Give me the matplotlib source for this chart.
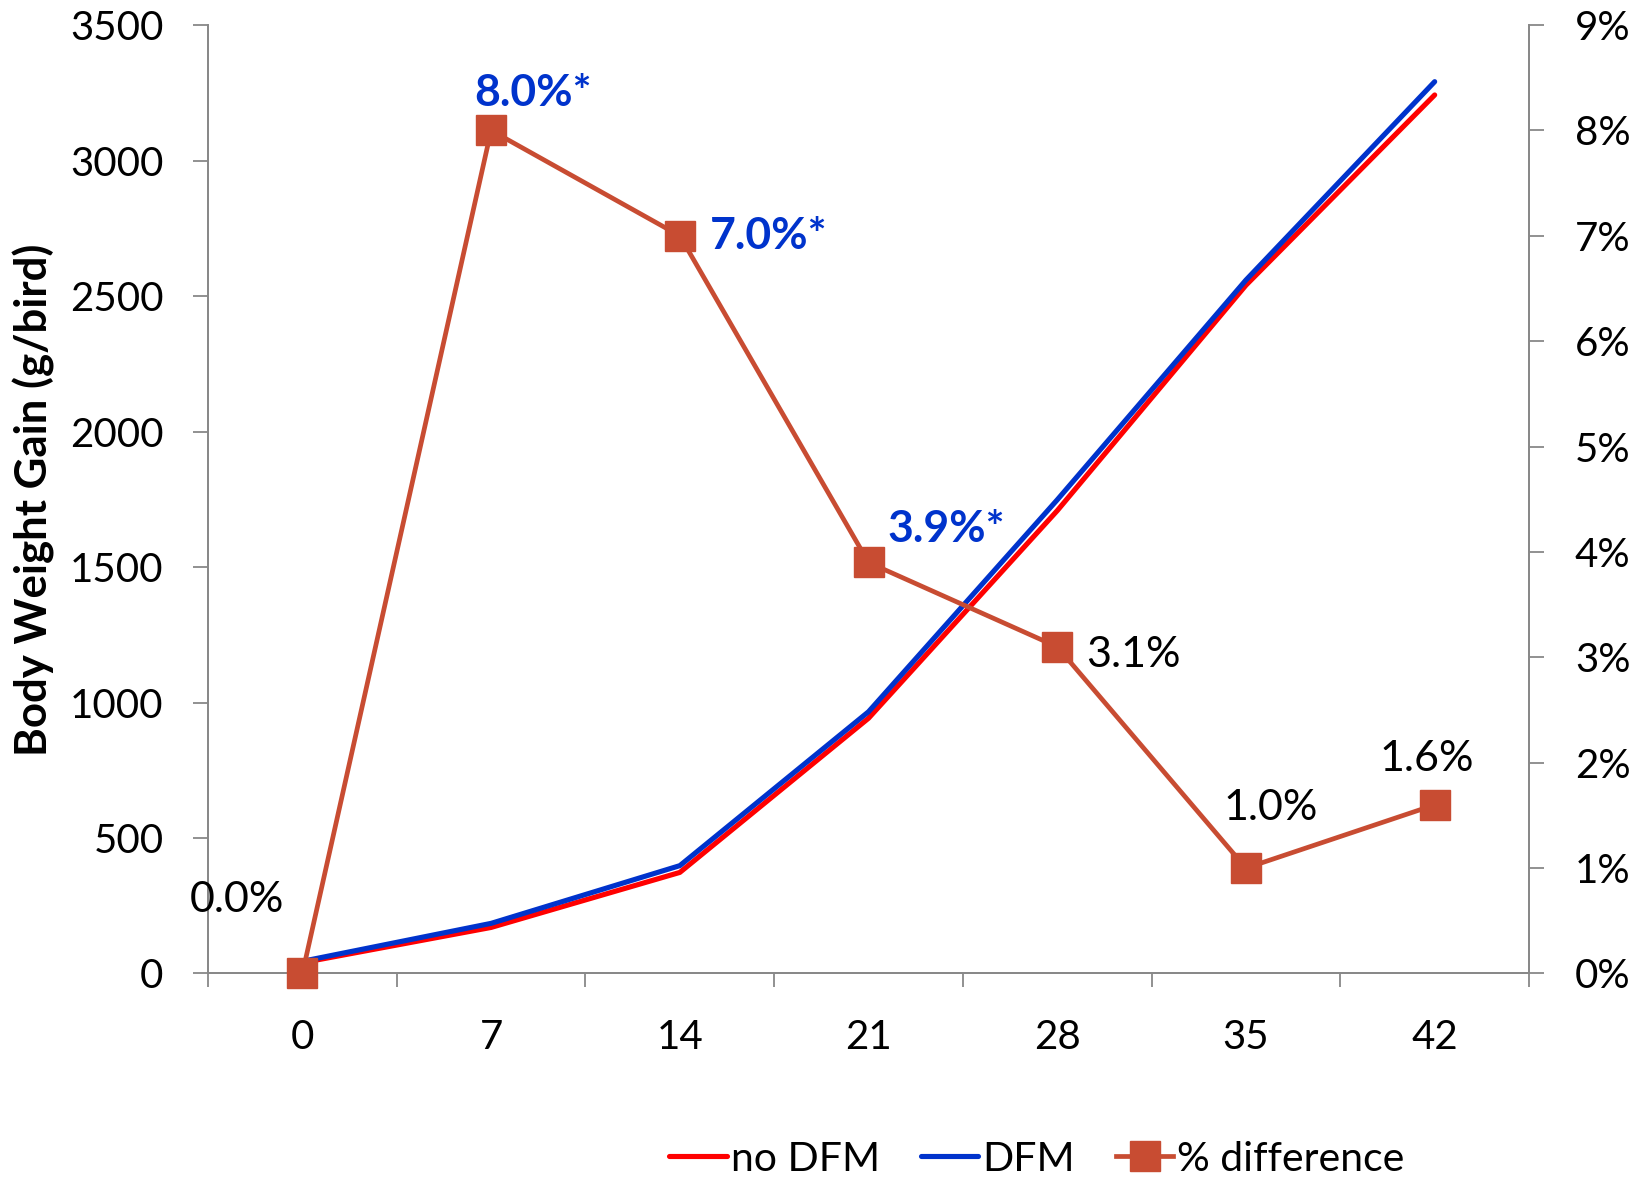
import matplotlib
matplotlib.use("Agg")
import matplotlib.pyplot as plt
from matplotlib.ticker import FixedLocator, FuncFormatter

plt.rcParams['font.family'] = ['Lato', 'DejaVu Sans']

# Days on trial and body weight gain (g/bird)
days = ["0", "7", "14", "21", "28", "35", "42"]
gain_no_dfm = [40, 170, 373, 942, 1708, 2540, 3242]
gain_dfm = [45, 185, 398, 966, 1748, 2559, 3291]

# Percent improvement of DFM over no DFM
pct_diff = [0.0, 8.0, 7.0, 3.9, 3.1, 1.0, 1.6]
pct_labels = ["0.0%", "8.0%*", "7.0%*", "3.9%*", "3.1%", "1.0%", "1.6%"]
significant = [False, True, True, True, False, False, False]

left_ticks = [0, 500, 1000, 1500, 2000, 2500, 3000, 3500]
right_ticks = [0, 1, 2, 3, 4, 5, 6, 7, 8, 9]

RED = "#FF0000"
BLUE = "#0033CC"
DIFF = "#C84C32"
AXIS = "#888888"
FS = 29

fig = plt.figure(figsize=(16.42, 11.81), dpi=100)
ax = fig.add_axes([0.1267, 0.1757, 0.9312 - 0.1267, 0.9788 - 0.1757])
ax2 = ax.twinx()

x = list(range(len(days)))
l1, = ax.plot(x, gain_no_dfm, color=RED, lw=3.7, solid_capstyle='round',
              solid_joinstyle='round', label="no DFM", zorder=3)
l2, = ax.plot(x, gain_dfm, color=BLUE, lw=3.7, solid_capstyle='round',
              solid_joinstyle='round', label="DFM", zorder=4)
l3, = ax2.plot(x, pct_diff, color=DIFF, lw=3.4, marker='s', markersize=21,
               markeredgecolor=DIFF, markerfacecolor=DIFF, label="% difference",
               zorder=5, clip_on=False)

# Data labels on the % difference series
offsets = [(-47, 53), (30, 27), (64, 0), (56, 24), (55, -6), (18, 43), (-6, 33)]
for xi, v, lab, sig, off in zip(x, pct_diff, pct_labels, significant, offsets):
    ax2.annotate(lab, (xi, v), xytext=off, textcoords='offset points',
                 ha='center', va='center', fontsize=32 if sig else 31,
                 color=BLUE if sig else 'black',
                 fontweight='bold' if sig else 'normal', zorder=6)

# Axis ranges
ax.set_xlim(-0.5, len(days) - 0.5)
ax.set_ylim(0, 3500)
ax2.set_ylim(0, 9)

# Category axis: tick marks between categories, labels at category centres
ax.xaxis.set_major_locator(FixedLocator([i - 0.5 for i in range(len(days) + 1)]))
ax.xaxis.set_minor_locator(FixedLocator(x))
ax.xaxis.set_major_formatter(FuncFormatter(lambda v, p: ""))
ax.set_xticklabels(days, minor=True)
ax.tick_params(axis='x', which='major', direction='out', length=10,
               width=1.3, color=AXIS)
ax.tick_params(axis='x', which='minor', length=0, pad=33, labelsize=FS)

ax.set_yticks(left_ticks)
ax.tick_params(axis='y', direction='out', length=11, width=1.3, color=AXIS,
               pad=21, labelsize=FS)
ax2.set_yticks(right_ticks)
ax2.set_yticklabels([f"{t}%" for t in right_ticks])
ax2.tick_params(axis='y', direction='out', length=11, width=1.3, color=AXIS,
                pad=22, labelsize=FS)

for a in (ax, ax2):
    a.spines['top'].set_visible(False)
    for s in ('left', 'right', 'bottom'):
        a.spines[s].set_color(AXIS)
        a.spines[s].set_linewidth(1.3)

fig.text(0.0205, 0.5766, "Body Weight Gain (g/bird)", rotation=90,
         ha='center', va='center', fontsize=31.5, fontweight='bold')

fig.legend(handles=[l1, l2, l3], loc='center', bbox_to_anchor=(0.6316, 0.0186),
           ncol=3, frameon=False, fontsize=29.5, handlelength=1.4,
           handletextpad=0.1, columnspacing=1.0, borderpad=0,
           markerscale=1.0)

fig.savefig("out.png", dpi=100)
